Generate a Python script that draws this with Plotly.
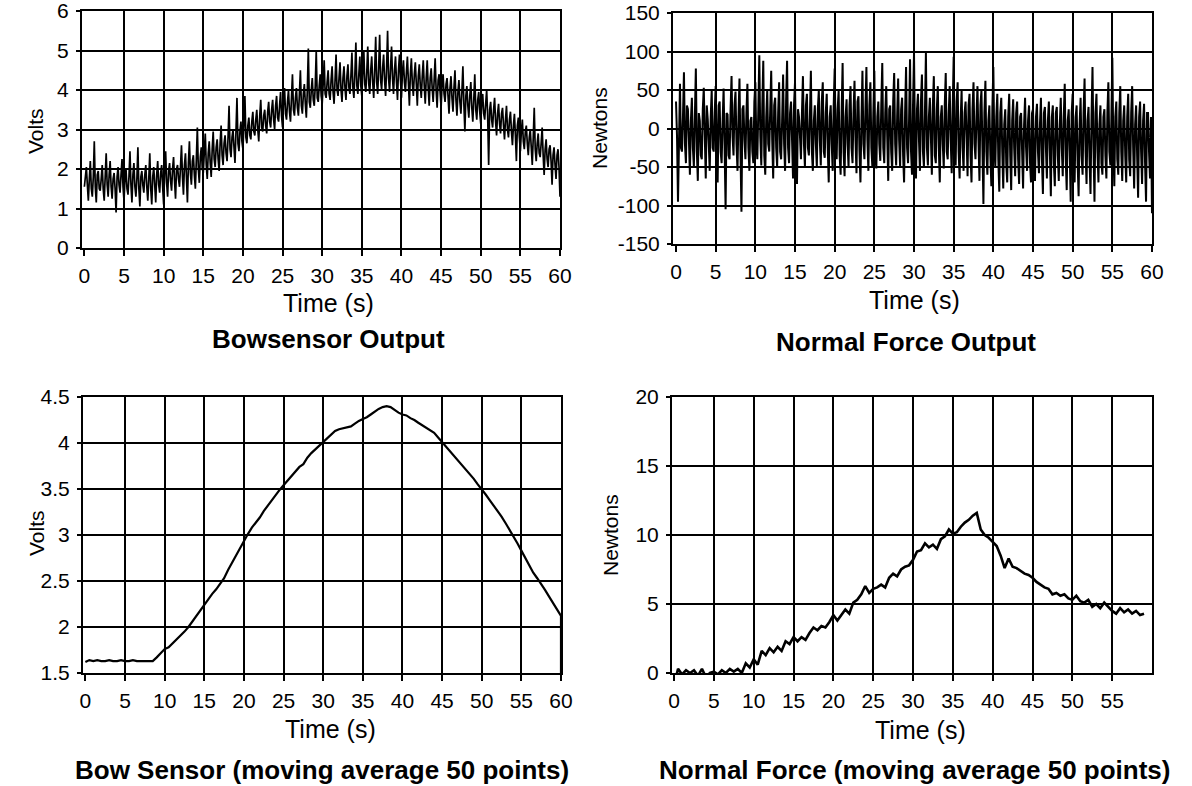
import plotly.graph_objects as go

W, H = 1192, 786

# ---------------- data ----------------
# Top-left: raw bow sensor output (Volts), sampled every 0.125 s
bow_raw = [
    1.55, 1.8, 2.05, 1.6, 1.2, 1.75, 2.2, 1.5,
    1.3, 1.8, 2.7, 1.55, 1.15, 1.85, 1.95, 1.5,
    1.45, 1.75, 2.1, 1.5, 1.2, 1.8, 2.4, 1.6,
    1.3, 1.85, 2.2, 1.55, 1.25, 1.75, 1.9, 1.5,
    0.9, 1.8, 2.05, 1.6, 1.4, 1.85, 2.25, 1.55,
    1.2, 1.75, 2.0, 1.5, 1.35, 1.8, 2.45, 1.6,
    1.15, 1.85, 2.15, 1.55, 1.3, 1.75, 2.55, 1.5,
    1.05, 1.8, 1.95, 1.6, 1.4, 1.85, 2.1, 1.55,
    1.2, 1.75, 2.4, 1.5, 1.1, 1.8, 2.05, 1.6,
    1.15, 1.85, 2.2, 1.6, 1.4, 1.9, 2.1, 1.55,
    1.1, 1.9, 2.45, 1.65, 1.3, 1.95, 2.15, 1.7,
    1.45, 2.0, 2.3, 1.7, 1.25, 2.0, 2.1, 1.75,
    1.55, 2.05, 2.6, 1.8, 1.35, 2.1, 2.4, 1.8,
    1.15, 2.15, 2.7, 1.9, 1.6, 2.2, 2.35, 1.85,
    1.5, 2.25, 3.05, 2.0, 1.65, 2.3, 2.55, 2.0,
    1.9, 2.4, 2.9, 2.1, 1.75, 2.4, 2.7, 2.15,
    1.8, 2.5, 2.95, 2.25, 2.05, 2.55, 2.75, 2.25,
    1.95, 2.65, 3.1, 2.35, 2.1, 2.65, 2.85, 2.4,
    2.2, 2.8, 3.6, 2.5, 2.3, 2.8, 3.0, 2.55,
    2.15, 2.95, 3.8, 2.65, 2.45, 2.95, 3.2, 2.7,
    2.5, 3.1, 3.85, 2.8, 2.65, 3.1, 3.3, 2.85,
    2.75, 3.2, 3.45, 2.95, 2.85, 3.25, 3.5, 3.0,
    2.7, 3.35, 3.75, 3.05, 2.95, 3.35, 3.5, 3.1,
    2.9, 3.45, 3.7, 3.2, 3.05, 3.5, 3.75, 3.25,
    3.0, 3.6, 3.85, 3.3, 3.2, 3.6, 3.95, 3.35,
    3.05, 3.7, 4.05, 3.4, 3.25, 3.7, 4.0, 3.45,
    3.2, 3.8, 4.4, 3.5, 3.35, 3.8, 4.05, 3.55,
    3.35, 3.9, 4.5, 3.6, 3.4, 3.9, 4.15, 3.65,
    3.3, 4.0, 5.05, 3.7, 3.55, 4.0, 4.3, 3.75,
    3.6, 4.1, 5.0, 3.8, 3.7, 4.1, 4.4, 3.85,
    3.65, 4.15, 4.75, 3.9, 3.8, 4.2, 4.5, 3.9,
    3.75, 4.25, 4.6, 3.95, 3.65, 4.25, 4.9, 4.0,
    3.85, 4.3, 4.7, 4.0, 3.7, 4.3, 4.6, 4.05,
    3.75, 4.35, 4.65, 4.05, 3.9, 4.35, 4.95, 4.05,
    3.8, 4.4, 5.2, 4.1, 3.9, 4.4, 4.85, 4.1,
    3.85, 4.45, 5.0, 4.15, 3.95, 4.45, 5.1, 4.15,
    3.9, 4.5, 4.85, 4.2, 3.8, 4.5, 5.35, 4.2,
    3.9, 4.55, 5.4, 4.25, 4.0, 4.55, 4.9, 4.25,
    3.85, 4.55, 5.5, 4.3, 3.95, 4.55, 5.1, 4.3,
    3.9, 4.5, 4.85, 4.2, 3.75, 4.5, 4.9, 4.25,
    3.8, 4.45, 4.75, 4.2, 3.95, 4.45, 4.85, 4.2,
    3.6, 4.4, 4.8, 4.15, 3.85, 4.4, 4.7, 4.15,
    3.6, 4.35, 4.65, 4.1, 3.8, 4.35, 4.75, 4.1,
    3.65, 4.3, 4.75, 4.05, 3.6, 4.3, 4.55, 4.05,
    3.7, 4.25, 4.8, 4.0, 3.55, 4.25, 4.4, 3.95,
    3.55, 4.15, 4.4, 3.9, 3.7, 4.15, 4.3, 3.85,
    3.4, 4.05, 4.35, 3.8, 3.45, 4.05, 4.5, 3.75,
    3.35, 3.95, 4.25, 3.7, 3.4, 3.95, 4.6, 3.65,
    2.95, 3.85, 4.1, 3.6, 3.3, 3.85, 4.2, 3.55,
    3.2, 3.75, 4.4, 3.5, 3.25, 3.75, 3.95, 3.45,
    3.15, 3.65, 3.9, 3.4, 3.25, 3.65, 4.0, 3.35,
    2.1, 3.5, 3.7, 3.25, 3.05, 3.5, 3.8, 3.2,
    2.85, 3.4, 3.65, 3.15, 2.9, 3.4, 3.55, 3.1,
    2.75, 3.25, 3.6, 3.0, 2.8, 3.25, 3.45, 2.95,
    2.6, 3.1, 3.4, 2.85, 2.2, 3.1, 3.3, 2.8,
    2.45, 2.95, 3.25, 2.7, 2.5, 2.95, 3.1, 2.65,
    2.35, 2.8, 3.0, 2.55, 2.1, 2.8, 3.55, 2.5,
    2.2, 2.65, 2.9, 2.4, 2.3, 2.65, 3.05, 2.35,
    1.85, 2.5, 2.75, 2.25, 2.05, 2.5, 2.6, 2.2,
    1.6, 2.35, 2.55, 2.1, 1.75, 2.35, 2.5, 2.05,
    1.3,
]

# Top-right: raw normal force output (Newtons), sampled every 0.125 s
force_raw = [
    35, -10, -95, 20, 58, -25, -30, 15,
    73, -20, -45, 30, 25, -15, -60, 10,
    40, -25, -50, 15, 78, -30, -68, 20,
    10, -35, -40, 25, 53, -10, -65, 30,
    12, -20, -55, 15, 50, -25, -30, 20,
    55, -15, -70, 30, 35, -30, -45, 10,
    52, -25, -105, 20, 18, -35, -40, 25,
    68, -10, -35, 30, 48, -20, -55, 15,
    65, -30, -108, 25, 30, -15, -40, 20,
    58, -25, -55, 10, 15, -30, -45, 35,
    60, -20, -40, 25, 95, -10, -48, 30,
    88, -35, -60, 15, 50, -20, -30, 25,
    75, -15, -65, 30, 40, -25, -50, 20,
    60, -30, -40, 10, 70, -20, -55, 35,
    88, -25, -45, 20, 35, -15, -65, 30,
    60, -35, -72, 25, 15, -10, -40, 20,
    68, -20, -50, 30, 45, -25, -35, 15,
    75, -30, -55, 10, 30, -20, -50, 25,
    50, -15, -48, 35, 60, -30, -38, 20,
    45, -25, -70, 15, 30, -20, -55, 30,
    78, -10, -40, 25, 50, -35, -60, 20,
    85, -30, -62, 15, 38, -20, -50, 30,
    55, -25, -45, 20, 62, -15, -58, 35,
    42, -30, -70, 10, 75, -20, -40, 25,
    80, -15, -55, 30, 60, -25, -50, 20,
    75, -35, -52, 15, 35, -20, -42, 30,
    85, -25, -45, 20, 55, -10, -68, 25,
    30, -30, -55, 35, 72, -20, -48, 15,
    65, -15, -50, 25, 40, -35, -70, 20,
    80, -25, -45, 10, 90, -30, -60, 30,
    98, -20, -65, 25, 45, -15, -55, 35,
    70, -30, -50, 20, 98, -25, -48, 15,
    40, -10, -60, 30, 68, -35, -45, 25,
    55, -25, -70, 15, 30, -20, -52, 30,
    72, -30, -40, 20, 55, -15, -58, 25,
    93, -20, -48, 35, 60, -30, -65, 10,
    50, -25, -55, 20, 35, -10, -62, 30,
    45, -35, -70, 25, 60, -20, -40, 15,
    55, -15, -68, 30, 50, -25, -98, 20,
    62, -30, -60, 10, 30, -35, -75, 25,
    80, -25, -50, 15, 45, -40, -82, 20,
    40, -30, -78, 5, 25, -45, -70, 15,
    45, -35, -80, 10, 38, -25, -62, 20,
    35, -40, -72, 15, 20, -30, -78, 5,
    40, -25, -55, 10, 30, -45, -70, 20,
    25, -35, -68, 15, 32, -30, -58, 5,
    40, -40, -85, 20, 28, -25, -65, 10,
    35, -30, -88, 15, 30, -45, -75, 20,
    28, -35, -68, 5, 40, -25, -62, 15,
    58, -40, -80, 10, 25, -30, -95, 20,
    45, -25, -70, 15, 30, -45, -88, 5,
    40, -35, -60, 20, 65, -30, -72, 10,
    28, -40, -85, 15, 80, -25, -95, 20,
    45, -30, -70, 5, 30, -45, -60, 15,
    25, -35, -65, 20, 60, -30, -48, 10,
    92, -25, -75, 15, 35, -40, -60, 20,
    55, -30, -68, 10, 30, -35, -70, 15,
    45, -40, -62, 20, 55, -25, -78, 5,
    30, -35, -90, 15, 35, -30, -72, 10,
    32, -45, -95, 20, 20, -30, -65, 15,
    -110,
]

# Bottom-left: bow sensor, moving average 50 points (Volts), every 0.5 s
bow_avg = [
    1.62, 1.64, 1.63, 1.64, 1.63, 1.63, 1.64, 1.63, 1.63, 1.64,   # 0 - 4.5
    1.63, 1.63, 1.64, 1.63, 1.63, 1.63, 1.63, 1.63,               # 5 - 8.5
    1.67, 1.72, 1.76, 1.78, 1.82, 1.86, 1.90, 1.95, 2.00, 2.06,   # 9 - 13.5
    2.12, 2.19, 2.25, 2.31, 2.36, 2.41, 2.47, 2.53, 2.62, 2.70,   # 14 - 18.5
    2.78, 2.86, 2.94, 3.01, 3.08, 3.13, 3.19, 3.26, 3.32, 3.38,   # 19 - 23.5
    3.44, 3.49, 3.54, 3.59, 3.65, 3.70, 3.74, 3.77, 3.84, 3.89,   # 24 - 28.5
    3.93, 3.97, 4.01, 4.05, 4.09, 4.13, 4.15, 4.16, 4.17, 4.18,   # 29 - 33.5
    4.21, 4.24, 4.26, 4.28, 4.31, 4.34, 4.37, 4.39, 4.40, 4.39,   # 34 - 38.5
    4.36, 4.33, 4.31, 4.30, 4.27, 4.25, 4.22, 4.19, 4.16, 4.14,   # 39 - 43.5
    4.11, 4.06, 4.01, 3.97, 3.92, 3.87, 3.81, 3.76, 3.71, 3.66,   # 44 - 48.5
    3.61, 3.55, 3.50, 3.44, 3.38, 3.32, 3.27, 3.20, 3.13, 3.06,   # 49 - 53.5
    2.98, 2.91, 2.83, 2.75, 2.67, 2.59, 2.53, 2.47, 2.40, 2.33,   # 54 - 58.5
    2.26, 2.19, 2.12,                                             # 59 - 60
]
bow_avg_end = [1.5]   # final drop at t = 60 s

# Bottom-right: normal force, moving average 50 points (Newtons), every 0.5 s
force_avg = [
    -0.9, 0.3, -0.1, 0.2, 0.0, 0.2, -0.2, 0.3, -0.3, 0.0,         # 0 - 4.5
    0.1, -0.1, 0.2, 0.0, 0.3, 0.1, 0.3, 0.0, 0.7, 0.4,            # 5 - 9.5
    1.0, 0.6, 1.6, 1.3, 1.8, 1.5, 1.9, 1.6, 2.3, 2.1,             # 10 - 14.5
    2.6, 2.3, 2.6, 2.4, 2.9, 3.3, 3.1, 3.4, 3.3, 3.7,             # 15 - 19.5
    4.2, 3.8, 4.2, 4.6, 4.3, 5.1, 5.3, 5.7, 6.3, 5.8,             # 20 - 24.5
    6.1, 6.2, 6.4, 6.2, 6.9, 7.2, 7.0, 7.5, 7.7, 7.8,             # 25 - 29.5
    8.2, 8.8, 8.9, 9.4, 9.1, 9.3, 9.0, 9.7, 9.9, 10.4,            # 30 - 34.5
    10.1, 10.2, 10.6, 10.9, 11.1, 11.4, 11.6, 10.4, 10.0, 9.8,    # 35 - 39.5
    9.5, 9.2, 8.5, 7.6, 8.3, 7.7, 7.6, 7.4, 7.2, 7.1,             # 40 - 44.5
    6.9, 6.6, 6.4, 6.2, 6.1, 5.7, 5.8, 5.6, 5.7, 5.4,             # 45 - 49.5
    5.3, 5.6, 5.2, 5.1, 5.3, 4.8, 5.0, 4.7, 5.1, 4.8,             # 50 - 54.5
    4.5, 4.3, 4.7, 4.4, 4.6, 4.3, 4.5, 4.2, 4.3,                  # 55 - 59
]

raw_step = 0.125
avg_step = 0.5

x_ticks = list(range(0, 61, 5))
x_ticks_nf = list(range(0, 56, 5))
inner_grid = list(range(5, 60, 5))

y1_ticks = [0, 1, 2, 3, 4, 5, 6]
y2_ticks = [-150, -100, -50, 0, 50, 100, 150]
y3_ticks = [1.5, 2, 2.5, 3, 3.5, 4, 4.5]
y4_ticks = [0, 5, 10, 15, 20]

# ---------------- figure ----------------
def px(x):
    return x / W

def py(y):
    return 1 - y / H

FONT = "Liberation Sans, Arial, Helvetica, sans-serif"

fig = go.Figure()

t_raw1 = [i * raw_step for i in range(len(bow_raw))]
t_raw2 = [i * raw_step for i in range(len(force_raw))]
t_avg3 = [i * avg_step for i in range(len(bow_avg))]
t_avg4 = [i * avg_step for i in range(len(force_avg))]

fig.add_trace(go.Scatter(x=t_raw1, y=bow_raw, mode="lines",
                         line=dict(color="black", width=1.7), xaxis="x", yaxis="y"))
fig.add_trace(go.Scatter(x=t_raw2, y=force_raw, mode="lines",
                         line=dict(color="black", width=2), xaxis="x2", yaxis="y2"))
fig.add_trace(go.Scatter(x=t_avg3 + [t_avg3[-1]], y=bow_avg + bow_avg_end, mode="lines",
                         line=dict(color="black", width=2.2), xaxis="x3", yaxis="y3"))
fig.add_trace(go.Scatter(x=t_avg4, y=force_avg, mode="lines",
                         line=dict(color="black", width=2.6), xaxis="x4", yaxis="y4"))

def xaxis(domain, rng, ticks, anchor):
    return dict(
        domain=domain, range=rng, anchor=anchor, automargin=False,
        tickmode="array", tickvals=ticks, ticktext=[str(v) for v in ticks],
        showgrid=False, zeroline=False,
        showline=True, linecolor="black", linewidth=2, mirror=True,
        ticks="outside", ticklen=6, tickwidth=2, tickcolor="black",
        ticklabelstandoff=2, ticklabeloverflow="allow",
        tickfont=dict(family=FONT, size=21, color="black"),
        minor=dict(tickmode="array", tickvals=inner_grid, showgrid=True,
                   gridcolor="black", gridwidth=2, ticks=""),
    )

def yaxis(domain, rng, ticks, anchor):
    return dict(
        domain=domain, range=rng, anchor=anchor, automargin=False,
        tickmode="array", tickvals=ticks, ticktext=[str(v) for v in ticks],
        showgrid=True, gridcolor="black", gridwidth=2, zeroline=False,
        showline=True, linecolor="black", linewidth=2, mirror=True,
        ticks="outside", ticklen=4, tickwidth=2, tickcolor="black",
        ticklabelstandoff=3, ticklabeloverflow="allow",
        tickfont=dict(family=FONT, size=21, color="black"),
    )

fig.update_layout(
    width=W, height=H,
    margin=dict(l=0, r=0, t=0, b=0, autoexpand=False),
    paper_bgcolor="white", plot_bgcolor="white",
    showlegend=False,
    xaxis=xaxis([px(82), px(560)], [-0.3, 60], x_ticks, "y"),
    yaxis=yaxis([py(248), py(11)], [0, 6], y1_ticks, "x"),
    xaxis2=xaxis([px(673), px(1152)], [-0.38, 60], x_ticks, "y2"),
    yaxis2=yaxis([py(244), py(13)], [-150, 150], y2_ticks, "x2"),
    xaxis3=xaxis([px(83), px(561)], [-0.3, 60], x_ticks, "y3"),
    yaxis3=yaxis([py(673), py(397)], [1.5, 4.5], y3_ticks, "x3"),
    xaxis4=xaxis([px(672), px(1152)], [-0.26, 60], x_ticks_nf, "y4"),
    yaxis4=yaxis([py(673), py(397)], [0, 20], y4_ticks, "x4"),
)

def note(text, x, y, size, bold=False, angle=0):
    fig.add_annotation(
        text=("<b>%s</b>" % text) if bold else text,
        x=px(x), y=py(y), xref="paper", yref="paper",
        showarrow=False, textangle=angle,
        xanchor="center", yanchor="middle",
        font=dict(family=FONT, size=size, color="black"),
    )

# axis titles
note("Time (s)", 328, 303, 25)
note("Time (s)", 914, 300, 25)
note("Time (s)", 330, 729, 25)
note("Time (s)", 920, 730, 25)
note("Volts", 36, 131, 21, angle=-90)
note("Newtons", 599, 128, 21, angle=-90)
note("Volts", 36, 533, 21, angle=-90)
note("Newtons", 610, 535, 21, angle=-90)

# chart titles
note("Bowsensor Output", 328, 339, 26, bold=True)
note("Normal Force Output", 906, 342, 26, bold=True)
note("Bow Sensor (moving average 50 points)", 322, 770, 26, bold=True)
note("Normal Force (moving average 50 points)", 914, 770, 26, bold=True)

# remove the browser's default 8 px page margin so the figure sits at (0, 0)
fig.write_html(
    "out.html",
    config={"displayModeBar": False, "staticPlot": True},
    post_script="document.body.style.margin='0';document.body.style.overflow='hidden';",
)
